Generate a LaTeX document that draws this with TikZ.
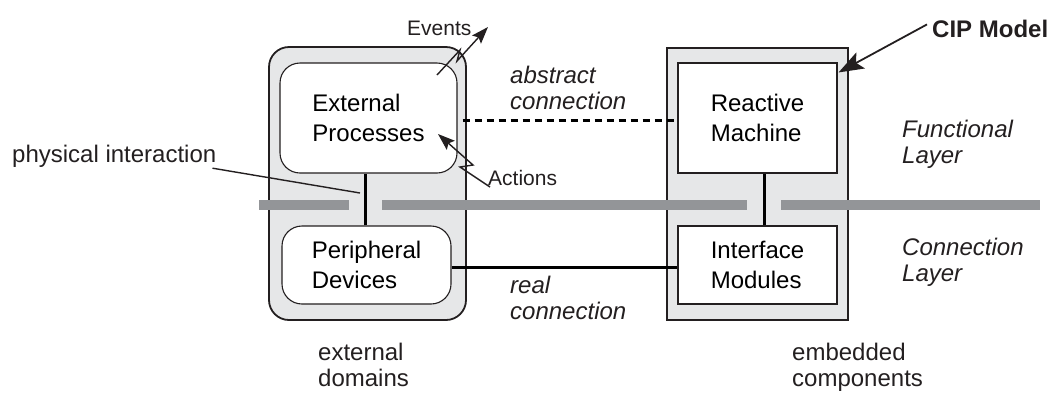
\documentclass[tikz,border=0pt]{standalone}
\usepackage{fontspec}
\setmainfont{Liberation Sans}
\usetikzlibrary{arrows.meta,calc}
\definecolor{ink}{HTML}{231F20}
\definecolor{shade}{HTML}{E6E7E8}
\definecolor{rail}{HTML}{939598}
% two left-aligned lines whose baseline is that of the first line
\newcommand\twolines[2]{\vtop{\hbox{#1}\hbox{#2}}}
\newcommand\boxtxtfont{\fontsize{24}{30}\selectfont}
\newcommand\lbltxtfont{\fontsize{24}{26}\selectfont}
\begin{document}
\begin{tikzpicture}[x=1pt,y=-1pt,
  domainbox/.style={draw=ink, line width=1.8pt, fill=shade, rounded corners=20pt, inner sep=0pt},
  platformbox/.style={draw=ink, line width=1.8pt, fill=shade, inner sep=0pt},
  procbox/.style={draw=ink, line width=1.1pt, fill=white, rounded corners=20pt, align=left, font=\boxtxtfont, inner sep=0pt},
  modbox/.style={draw=ink, line width=1.1pt, fill=white, align=left, font=\boxtxtfont, inner sep=0pt},
  lbl/.style={anchor=base west, inner sep=0pt, font=\lbltxtfont, text=ink},
  note/.style={anchor=base west, inner sep=0pt, font=\fontsize{21}{25}\selectfont, text=ink},
  wire/.style={draw=black, line width=3pt},
  abstractwire/.style={wire, dash pattern=on 7pt off 5pt},
  railseg/.style={draw=rail, line width=10pt},
  leader/.style={draw=ink, line width=1.4pt},
  flow/.style={leader, line join=miter, -{Stealth[length=17pt,width=12pt,inset=3pt]}},
  pointer/.style={draw=ink, line width=1.8pt, -{Stealth[length=25pt,width=18pt,inset=5pt]}}
]
\useasboundingbox (0,0) rectangle (1052,392);

% containers
\node[domainbox, minimum width=197pt, minimum height=273pt] (dom) at (367.5,183.5) {};
\node[platformbox, minimum width=181pt, minimum height=272pt] (emb) at (757.5,184) {};

% inner blocks
\node[procbox, minimum width=177pt, minimum height=110pt] (ep) at (368.5,118) {External\\Processes};
\node[procbox, minimum width=169pt, minimum height=78pt] (pd) at (366.5,265) {Peripheral\\Devices};
\node[modbox, minimum width=159pt, minimum height=110pt] (rm) at (757.5,118) {Reactive\\Machine};
\node[modbox, minimum width=159pt, minimum height=78pt] (im) at (757.5,265) {Interface\\Modules};

% layer boundary
\coordinate (r0) at (259,205);
\coordinate (r1) at (349,205);
\coordinate (r2) at (382,205);
\coordinate (r3) at (747,205);
\coordinate (r4) at (781,205);
\coordinate (r5) at (1040,205);
\draw[railseg] (r0) -- (r1);
\draw[railseg] (r2) -- (r3);
\draw[railseg] (r4) -- (r5);

% connections
\draw[wire] ([xshift=-1.5pt]pd.north) -- ([xshift=-1.5pt]pd.north |- ep.south);
\draw[wire] ([xshift=6.5pt]im.north) -- ([xshift=6.5pt]rm.south);
\draw[abstractwire] ([xshift=5pt,yshift=-2pt]ep.east) -- ([yshift=-2pt]rm.west);
\draw[wire] ([yshift=-2pt]pd.east) -- ([yshift=-2pt]im.west);

% labels
\node[lbl] (phys) at (12,162) {physical interaction};
\node[lbl] (abs) at (510,83) {\itshape\twolines{abstract}{connection}};
\node[lbl] (real) at (510,293) {\itshape\twolines{real}{connection}};
\node[lbl] (fl) at (902,137) {\itshape\twolines{Functional}{Layer}};
\node[lbl] (cl) at (902,255) {\itshape\twolines{Connection}{Layer}};
\node[lbl] (xd) at (318,360) {\twolines{external}{domains}};
\node[lbl] (ec) at (792,360) {\twolines{embedded}{components}};
\node[lbl, font=\lbltxtfont\bfseries] (cip) at (932,37) {CIP Model};
\node[note] (ev) at (407,35) {Events};
\node[note] (act) at (488,185) {Actions};

% leader to the physical link
\coordinate (physend) at (360,193);
\draw[leader] ([xshift=-4pt,yshift=-1pt]phys.south east) -- (physend);

% events leaving and actions entering the external processes
\coordinate (e0) at (437,75);
\coordinate (e1) at (460,50);
\coordinate (e2) at (457,61);
\coordinate (e3) at (488,27);
\draw[flow] (e0) -- (e1) -- (e2) -- (e3);
\coordinate (a0) at (490,187);
\coordinate (a1) at (460,167);
\coordinate (a2) at (473,165);
\coordinate (a3) at (438,134);
\draw[flow] (a0) -- (a1) -- (a2) -- (a3);

% pointer to the model
\draw[pointer] ([xshift=-5pt,yshift=4pt]cip.west) -- ([shift={(1,10)}]rm.north east);
\end{tikzpicture}
\end{document}
